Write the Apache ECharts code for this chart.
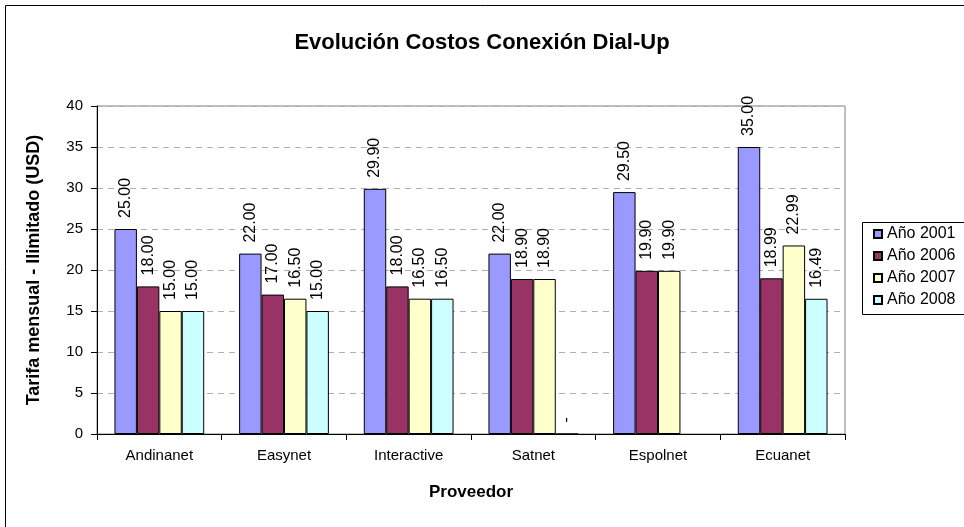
<!DOCTYPE html>
<html>
<head>
<meta charset="utf-8">
<script src="https://cdn.jsdelivr.net/npm/echarts@6/dist/echarts.min.js"></script>
<style>html,body{margin:0;padding:0;background:#fff;}#c{width:964px;height:527px;}</style>
</head>
<body>
<div id="c"></div>
<script>
var categories = ['Andinanet', 'Easynet', 'Interactive', 'Satnet', 'Espolnet', 'Ecuanet'];
var seriesNames = ['Año 2001', 'Año 2006', 'Año 2007', 'Año 2008'];
var y2001 = [25.00, 22.00, 29.90, 22.00, 29.50, 35.00];
var y2006 = [18.00, 17.00, 18.00, 18.90, 19.90, 18.99];
var y2007 = [15.00, 16.50, 16.50, 18.90, 19.90, 22.99];
var y2008 = [15.00, 15.00, 16.50, 0, null, 16.49];
var yTicks = [0, 5, 10, 15, 20, 25, 30, 35, 40];
var colors = ['#9999FF', '#993366', '#FFFFCC', '#CCFFFF'];
var FONT = '"Liberation Sans", Arial, sans-serif';

var chart = echarts.init(document.getElementById('c'), null, {renderer: 'canvas'});
var allData = [y2001, y2006, y2007, y2008];
var series = allData.map(function (d, i) {
  return {
    name: seriesNames[i],
    type: 'bar',
    data: d,
    barGap: '0%',
    barCategoryGap: '28%',
    itemStyle: {color: colors[i], borderColor: '#000', borderWidth: 1},
    label: {
      show: true,
      position: 'top',
      rotate: 90,
      align: 'left',
      verticalAlign: 'middle',
      distance: 11,
      fontFamily: FONT,
      fontSize: 16,
      color: '#000',
      formatter: function (p) {
        if (p.value === null || p.value === undefined) return '';
        if (p.value === 0) return '-';
        return p.value.toFixed(2);
      }
    }
  };
});

chart.setOption({
  animation: false,
  textStyle: {fontFamily: FONT},
  title: {
    text: 'Evolución Costos Conexión Dial-Up',
    left: 'center',
    top: 27,
    textStyle: {fontFamily: FONT, fontSize: 22, fontWeight: 'bold', color: '#000'}
  },
  graphic: [{
    type: 'rect',
    shape: {x: 5.5, y: 5.5, width: 1000, height: 600},
    style: {fill: 'none', stroke: '#000', lineWidth: 1},
    silent: true
  }, {
    type: 'rect',
    shape: {x: 862.5, y: 222.5, width: 200, height: 92},
    style: {fill: 'none', stroke: '#000', lineWidth: 1},
    silent: true,
    z: 10
  }],
  legend: {
    orient: 'vertical',
    left: 862,
    top: 222,
    itemWidth: 8,
    itemHeight: 8,
    itemGap: 6,
    padding: [4, 5, 7, 11],
    borderWidth: 0,
    icon: 'rect',
    textStyle: {fontFamily: FONT, fontSize: 16, color: '#000'},
    data: seriesNames
  },
  grid: {
    left: 97, right: 119, top: 106, bottom: 93,
    show: true, borderColor: '#808080', borderWidth: 1, backgroundColor: '#fff'
  },
  xAxis: {
    type: 'category',
    data: categories,
    name: 'Proveedor',
    nameLocation: 'middle',
    nameGap: 50,
    nameTextStyle: {fontFamily: FONT, fontSize: 17, fontWeight: 'bold', color: '#000'},
    axisLine: {lineStyle: {color: '#000', width: 1}},
    axisTick: {show: true, length: 6, lineStyle: {color: '#000'}},
    axisLabel: {fontFamily: FONT, fontSize: 15, color: '#000', margin: 14}
  },
  yAxis: {
    type: 'value',
    min: 0, max: 40, interval: 5,
    name: 'Tarifa mensual - Ilimitado (USD)',
    nameLocation: 'middle',
    nameRotate: 90,
    nameGap: 54,
    nameTextStyle: {fontFamily: FONT, fontSize: 18, fontWeight: 'bold', color: '#000'},
    axisLine: {show: true, lineStyle: {color: '#000', width: 1}},
    axisTick: {show: true, length: 6, lineStyle: {color: '#000'}},
    axisLabel: {
      fontFamily: FONT, fontSize: 15, color: '#000', margin: 14,
      formatter: function (v) { return yTicks.indexOf(v) >= 0 ? String(v) : ''; }
    },
    splitLine: {show: true, lineStyle: {color: '#b0b0b0', type: [6, 5], width: 1}}
  },
  series: series
});
</script>
</body>
</html>
